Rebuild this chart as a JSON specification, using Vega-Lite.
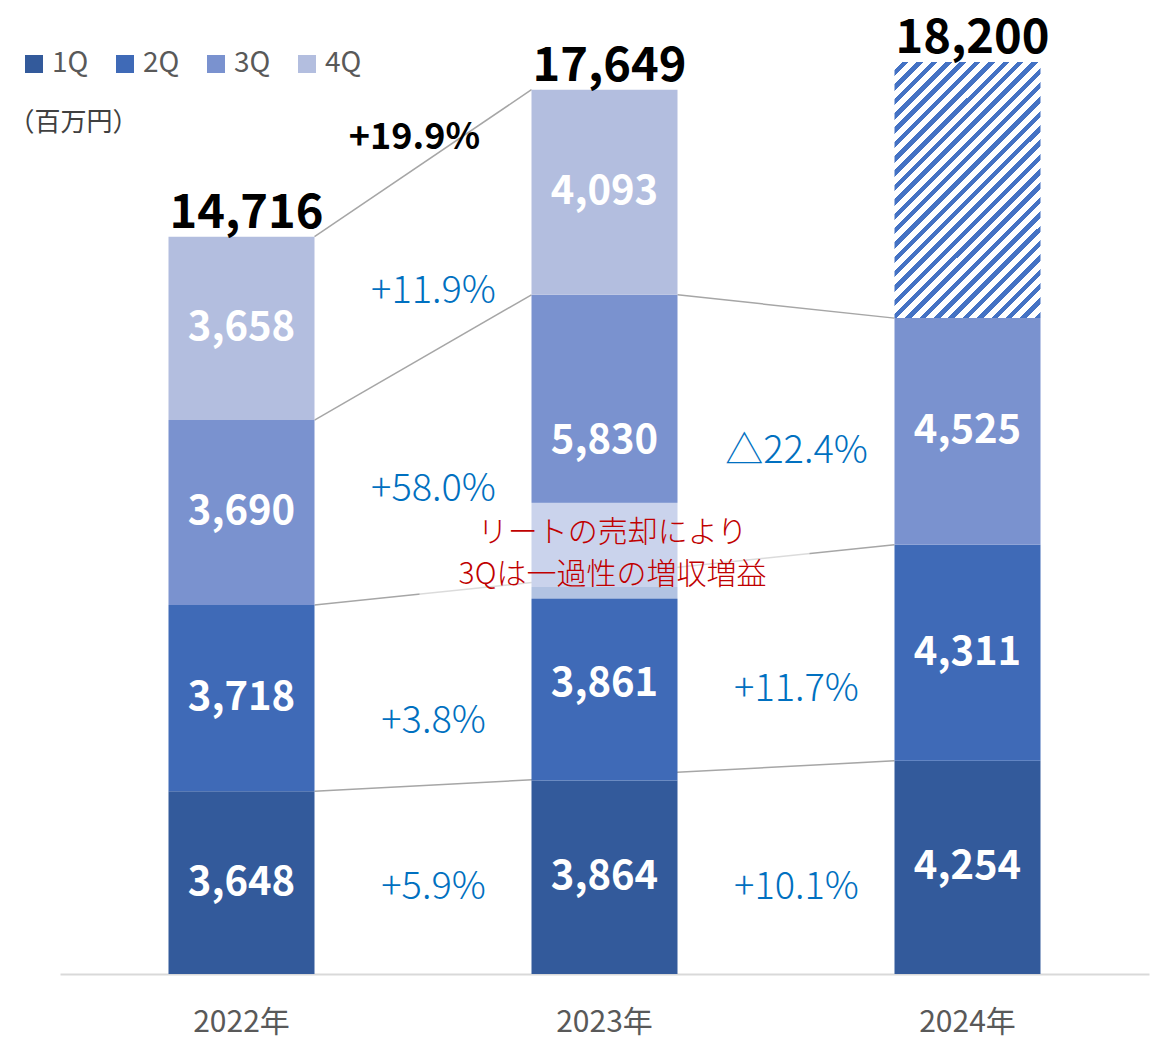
{
  "$schema": "https://vega.github.io/schema/vega-lite/v6.json",
  "width": 1089,
  "height": 952,
  "autosize": {"type": "none"},
  "padding": {"left": 60, "top": 22, "right": 4, "bottom": 72},
  "background": "white",
  "config": {
    "view": {"stroke": null},
    "font": "Noto Sans CJK JP",
    "axisX": {"domainColor": "#D9D9D9", "domainWidth": 2, "ticks": false, "grid": false, "labelFontSize": 30, "labelColor": "#595959", "labelPadding": 33, "labelAngle": 0, "labelFont": "Noto Sans CJK JP"},
    "axisY": {"domain": false, "ticks": false, "labels": false, "grid": false, "titleAngle": 0, "titleAlign": "left", "titleBaseline": "middle", "titleX": -52, "titleY": 100, "titleFontSize": 26, "titleFontWeight": "normal", "titleColor": "#404040", "titleFont": "Noto Sans CJK JP"}
  },
  "datasets": {
    "sales": [
      {"year": "2022年", "q": "1Q", "value": 3648, "forecast": false},
      {"year": "2022年", "q": "2Q", "value": 3718, "forecast": false},
      {"year": "2022年", "q": "3Q", "value": 3690, "forecast": false},
      {"year": "2022年", "q": "4Q", "value": 3658, "forecast": false},
      {"year": "2023年", "q": "1Q", "value": 3864, "forecast": false},
      {"year": "2023年", "q": "2Q", "value": 3861, "forecast": false},
      {"year": "2023年", "q": "3Q", "value": 5830, "forecast": false},
      {"year": "2023年", "q": "4Q", "value": 4093, "forecast": false},
      {"year": "2024年", "q": "1Q", "value": 4254, "forecast": false},
      {"year": "2024年", "q": "2Q", "value": 4311, "forecast": false},
      {"year": "2024年", "q": "3Q", "value": 4525, "forecast": false},
      {"year": "2024年", "q": "4Q", "value": 5110, "forecast": true}
    ],
    "totals": [
      {"year": "2022年", "total": 14716},
      {"year": "2023年", "total": 17649},
      {"year": "2024年", "total": 18200}
    ],
    "links": [
      {"from": "2022年", "to": "2023年", "start": 14716, "end": 17649},
      {"from": "2022年", "to": "2023年", "start": 11056, "end": 13555},
      {"from": "2023年", "to": "2024年", "start": 13555, "end": 13090},
      {"from": "2022年", "to": "2024年", "start": 7366, "end": 8565},
      {"from": "2022年", "to": "2024年", "start": 3648, "end": 4254}
    ],
    "growth": [
      {"from": "2022年", "q": "1Q", "label": "+5.9%", "at": 1717},
      {"from": "2022年", "q": "2Q", "label": "+3.8%", "at": 5032},
      {"from": "2022年", "q": "3Q", "label": "+58.0%", "at": 9665},
      {"from": "2022年", "q": "4Q", "label": "+11.9%", "at": 13618},
      {"from": "2022年", "q": "total", "label": "+19.9%", "at": 16693},
      {"from": "2023年", "q": "1Q", "label": "+10.1%", "at": 1717},
      {"from": "2023年", "q": "2Q", "label": "+11.7%", "at": 5671},
      {"from": "2023年", "q": "3Q", "label": "△22.4%", "at": 10423}
    ]
  },
  "layer": [
    {
      "data": {"name": "links"},
      "mark": {"type": "rule", "color": "#A6A6A6", "strokeWidth": 1.5, "xOffset": 73, "x2Offset": -73},
      "encoding": {
        "x": {"field": "from", "type": "nominal", "title": null, "scale": {"type": "band", "domain": ["2022年", "2023年", "2024年"], "paddingInner": 0, "paddingOuter": 0}},
        "x2": {"field": "to"},
        "y": {"field": "start", "type": "quantitative", "title": "（百万円）", "scale": {"domain": [0, 19000], "nice": false}},
        "y2": {"field": "end"}
      }
    },
    {
      "data": {"name": "sales"},
      "mark": {"type": "bar", "width": 146},
      "encoding": {
        "x": {"field": "year", "type": "nominal", "title": null, "scale": {"type": "band", "domain": ["2022年", "2023年", "2024年"], "paddingInner": 0, "paddingOuter": 0}},
        "y": {"field": "value", "type": "quantitative", "stack": "zero", "title": "（百万円）", "scale": {"domain": [0, 19000], "nice": false}},
        "fill": {
          "condition": {"test": "datum.forecast", "value": {"gradient": "linear", "x1": 0, "y1": 0, "x2": 0.675, "y2": 1.185, "stops": [
            {"offset": 0, "color": "#FFFFFF"}, {"offset": 0.0196, "color": "#FFFFFF"}, {"offset": 0.0196, "color": "#4472C4"}, {"offset": 0.0357, "color": "#4472C4"},
            {"offset": 0.0357, "color": "#FFFFFF"}, {"offset": 0.0554, "color": "#FFFFFF"}, {"offset": 0.0554, "color": "#4472C4"}, {"offset": 0.0714, "color": "#4472C4"},
            {"offset": 0.0714, "color": "#FFFFFF"}, {"offset": 0.0911, "color": "#FFFFFF"}, {"offset": 0.0911, "color": "#4472C4"}, {"offset": 0.1071, "color": "#4472C4"},
            {"offset": 0.1071, "color": "#FFFFFF"}, {"offset": 0.1268, "color": "#FFFFFF"}, {"offset": 0.1268, "color": "#4472C4"}, {"offset": 0.1429, "color": "#4472C4"},
            {"offset": 0.1429, "color": "#FFFFFF"}, {"offset": 0.1625, "color": "#FFFFFF"}, {"offset": 0.1625, "color": "#4472C4"}, {"offset": 0.1786, "color": "#4472C4"},
            {"offset": 0.1786, "color": "#FFFFFF"}, {"offset": 0.1982, "color": "#FFFFFF"}, {"offset": 0.1982, "color": "#4472C4"}, {"offset": 0.2143, "color": "#4472C4"},
            {"offset": 0.2143, "color": "#FFFFFF"}, {"offset": 0.2339, "color": "#FFFFFF"}, {"offset": 0.2339, "color": "#4472C4"}, {"offset": 0.25, "color": "#4472C4"},
            {"offset": 0.25, "color": "#FFFFFF"}, {"offset": 0.2696, "color": "#FFFFFF"}, {"offset": 0.2696, "color": "#4472C4"}, {"offset": 0.2857, "color": "#4472C4"},
            {"offset": 0.2857, "color": "#FFFFFF"}, {"offset": 0.3054, "color": "#FFFFFF"}, {"offset": 0.3054, "color": "#4472C4"}, {"offset": 0.3214, "color": "#4472C4"},
            {"offset": 0.3214, "color": "#FFFFFF"}, {"offset": 0.3411, "color": "#FFFFFF"}, {"offset": 0.3411, "color": "#4472C4"}, {"offset": 0.3571, "color": "#4472C4"},
            {"offset": 0.3571, "color": "#FFFFFF"}, {"offset": 0.3768, "color": "#FFFFFF"}, {"offset": 0.3768, "color": "#4472C4"}, {"offset": 0.3929, "color": "#4472C4"},
            {"offset": 0.3929, "color": "#FFFFFF"}, {"offset": 0.4125, "color": "#FFFFFF"}, {"offset": 0.4125, "color": "#4472C4"}, {"offset": 0.4286, "color": "#4472C4"},
            {"offset": 0.4286, "color": "#FFFFFF"}, {"offset": 0.4482, "color": "#FFFFFF"}, {"offset": 0.4482, "color": "#4472C4"}, {"offset": 0.4643, "color": "#4472C4"},
            {"offset": 0.4643, "color": "#FFFFFF"}, {"offset": 0.4839, "color": "#FFFFFF"}, {"offset": 0.4839, "color": "#4472C4"}, {"offset": 0.5, "color": "#4472C4"},
            {"offset": 0.5, "color": "#FFFFFF"}, {"offset": 0.5196, "color": "#FFFFFF"}, {"offset": 0.5196, "color": "#4472C4"}, {"offset": 0.5357, "color": "#4472C4"},
            {"offset": 0.5357, "color": "#FFFFFF"}, {"offset": 0.5554, "color": "#FFFFFF"}, {"offset": 0.5554, "color": "#4472C4"}, {"offset": 0.5714, "color": "#4472C4"},
            {"offset": 0.5714, "color": "#FFFFFF"}, {"offset": 0.5911, "color": "#FFFFFF"}, {"offset": 0.5911, "color": "#4472C4"}, {"offset": 0.6071, "color": "#4472C4"},
            {"offset": 0.6071, "color": "#FFFFFF"}, {"offset": 0.6268, "color": "#FFFFFF"}, {"offset": 0.6268, "color": "#4472C4"}, {"offset": 0.6429, "color": "#4472C4"},
            {"offset": 0.6429, "color": "#FFFFFF"}, {"offset": 0.6625, "color": "#FFFFFF"}, {"offset": 0.6625, "color": "#4472C4"}, {"offset": 0.6786, "color": "#4472C4"},
            {"offset": 0.6786, "color": "#FFFFFF"}, {"offset": 0.6982, "color": "#FFFFFF"}, {"offset": 0.6982, "color": "#4472C4"}, {"offset": 0.7143, "color": "#4472C4"},
            {"offset": 0.7143, "color": "#FFFFFF"}, {"offset": 0.7339, "color": "#FFFFFF"}, {"offset": 0.7339, "color": "#4472C4"}, {"offset": 0.75, "color": "#4472C4"},
            {"offset": 0.75, "color": "#FFFFFF"}, {"offset": 0.7696, "color": "#FFFFFF"}, {"offset": 0.7696, "color": "#4472C4"}, {"offset": 0.7857, "color": "#4472C4"},
            {"offset": 0.7857, "color": "#FFFFFF"}, {"offset": 0.8054, "color": "#FFFFFF"}, {"offset": 0.8054, "color": "#4472C4"}, {"offset": 0.8214, "color": "#4472C4"},
            {"offset": 0.8214, "color": "#FFFFFF"}, {"offset": 0.8411, "color": "#FFFFFF"}, {"offset": 0.8411, "color": "#4472C4"}, {"offset": 0.8571, "color": "#4472C4"},
            {"offset": 0.8571, "color": "#FFFFFF"}, {"offset": 0.8768, "color": "#FFFFFF"}, {"offset": 0.8768, "color": "#4472C4"}, {"offset": 0.8929, "color": "#4472C4"},
            {"offset": 0.8929, "color": "#FFFFFF"}, {"offset": 0.9125, "color": "#FFFFFF"}, {"offset": 0.9125, "color": "#4472C4"}, {"offset": 0.9286, "color": "#4472C4"},
            {"offset": 0.9286, "color": "#FFFFFF"}, {"offset": 0.9482, "color": "#FFFFFF"}, {"offset": 0.9482, "color": "#4472C4"}, {"offset": 0.9643, "color": "#4472C4"},
            {"offset": 0.9643, "color": "#FFFFFF"}, {"offset": 0.9839, "color": "#FFFFFF"}, {"offset": 0.9839, "color": "#4472C4"}, {"offset": 1, "color": "#4472C4"}
          ]}},
          "field": "q",
          "type": "nominal",
          "scale": {"domain": ["1Q", "2Q", "3Q", "4Q"], "range": ["#335A9B", "#3F6AB7", "#7A92CF", "#B3BEDF"]},
          "legend": {"title": null, "orient": "none", "legendX": -40, "legendY": 28, "direction": "horizontal", "symbolType": "square", "symbolSize": 324, "symbolStrokeWidth": 0, "labelFontSize": 28, "labelColor": "#595959", "labelFont": "Noto Sans CJK JP", "labelOffset": 4, "columnPadding": 22, "padding": 0}
        },
        "order": {"field": "q", "sort": "ascending"}
      }
    },
    {
      "data": {"values": [{}]},
      "mark": {"type": "bar", "width": 390, "xOffset": 10, "fill": "#FFFFFF", "opacity": 0.6},
      "encoding": {
        "x": {"datum": "2023年", "type": "nominal", "scale": {"type": "band", "domain": ["2022年", "2023年", "2024年"], "paddingInner": 0, "paddingOuter": 0}},
        "y": {"datum": 7488, "type": "quantitative", "scale": {"domain": [0, 19000], "nice": false}},
        "y2": {"datum": 9405}
      }
    },
    {
      "data": {"name": "sales"},
      "transform": [{"filter": "!datum.forecast"}],
      "mark": {"type": "text", "fontSize": 40, "fontWeight": "bold", "color": "#FFFFFF", "baseline": "middle", "font": "Noto Sans CJK JP"},
      "encoding": {
        "x": {"field": "year", "type": "nominal", "title": null, "scale": {"type": "band", "domain": ["2022年", "2023年", "2024年"], "paddingInner": 0, "paddingOuter": 0}},
        "y": {"field": "value", "type": "quantitative", "stack": "zero", "bandPosition": 0.5, "scale": {"domain": [0, 19000], "nice": false}},
        "detail": {"field": "q"},
        "order": {"field": "q", "sort": "ascending"},
        "text": {"field": "value", "type": "quantitative", "format": ","}
      }
    },
    {
      "data": {"name": "totals"},
      "mark": {"type": "text", "fontSize": 47, "fontWeight": "bold", "color": "#000000", "baseline": "alphabetic", "dy": -9, "dx": 5, "font": "Noto Sans CJK JP"},
      "encoding": {
        "x": {"field": "year", "type": "nominal", "title": null, "scale": {"type": "band", "domain": ["2022年", "2023年", "2024年"], "paddingInner": 0, "paddingOuter": 0}},
        "y": {"field": "total", "type": "quantitative", "scale": {"domain": [0, 19000], "nice": false}},
        "text": {"field": "total", "type": "quantitative", "format": ","}
      }
    },
    {
      "data": {"name": "growth"},
      "transform": [{"filter": "datum.q != 'total'"}],
      "mark": {"type": "text", "fontSize": 38, "fontWeight": 300, "color": "#0070C0", "baseline": "middle", "dx": 192, "font": "Noto Sans CJK JP"},
      "encoding": {
        "x": {"field": "from", "type": "nominal", "title": null, "scale": {"type": "band", "domain": ["2022年", "2023年", "2024年"], "paddingInner": 0, "paddingOuter": 0}},
        "y": {"field": "at", "type": "quantitative", "scale": {"domain": [0, 19000], "nice": false}},
        "text": {"field": "label"}
      }
    },
    {
      "data": {"name": "growth"},
      "transform": [{"filter": "datum.q == 'total'"}],
      "mark": {"type": "text", "fontSize": 36, "fontWeight": "bold", "color": "#000000", "baseline": "middle", "dx": 173, "font": "Noto Sans CJK JP"},
      "encoding": {
        "x": {"field": "from", "type": "nominal", "title": null, "scale": {"type": "band", "domain": ["2022年", "2023年", "2024年"], "paddingInner": 0, "paddingOuter": 0}},
        "y": {"field": "at", "type": "quantitative", "scale": {"domain": [0, 19000], "nice": false}},
        "text": {"field": "label"}
      }
    },
    {
      "data": {"values": [{}]},
      "mark": {"type": "text", "text": ["リートの売却により", "3Qは一過性の増収増益"], "lineHeight": 42, "fontSize": 30, "fontWeight": 300, "color": "#C00000", "baseline": "middle", "dx": 8, "font": "Noto Sans CJK JP"},
      "encoding": {
        "x": {"datum": "2023年", "type": "nominal", "scale": {"type": "band", "domain": ["2022年", "2023年", "2024年"], "paddingInner": 0, "paddingOuter": 0}},
        "y": {"datum": 8807, "type": "quantitative", "scale": {"domain": [0, 19000], "nice": false}}
      }
    }
  ]
}
